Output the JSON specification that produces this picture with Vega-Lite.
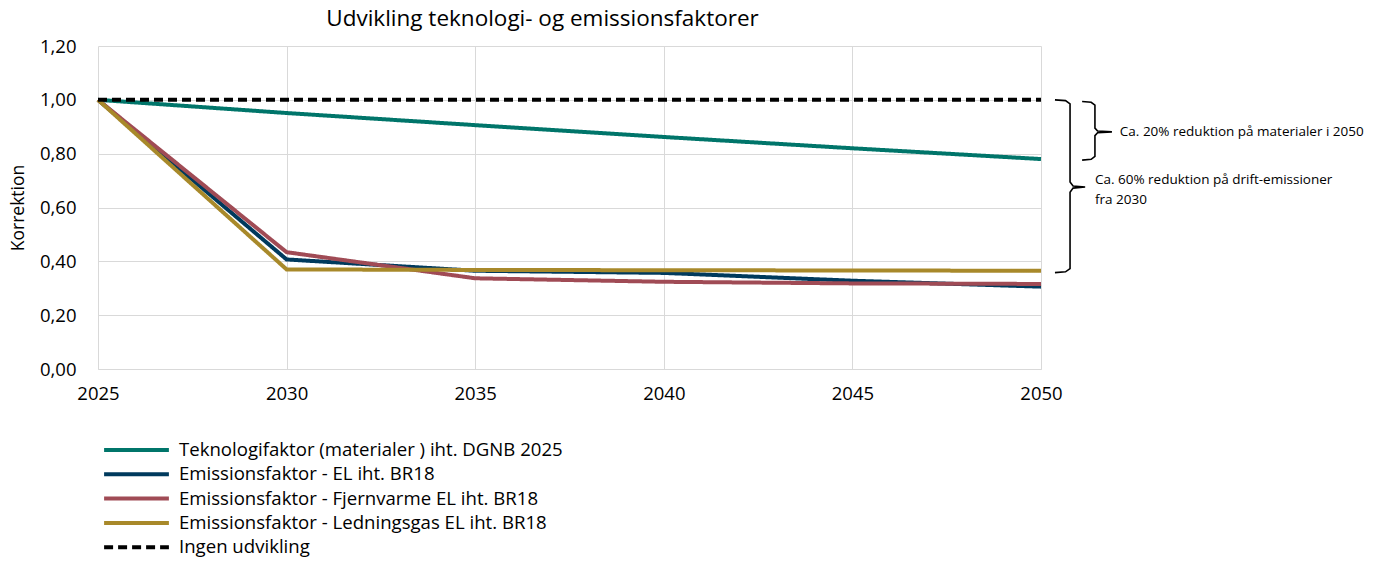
{
  "$schema": "https://vega.github.io/schema/vega-lite/v6.json",
  "width": 943,
  "height": 323,
  "autosize": {"type": "none"},
  "padding": {"left": 98, "top": 46, "right": 335, "bottom": 197},
  "title": {"text": "Udvikling teknologi- og emissionsfaktorer", "anchor": "middle", "dx": -27, "offset": 7, "font": "Open Sans", "fontSize": 22.5, "fontWeight": "normal", "color": "#000000"},
  "config": {
    "view": {"stroke": null},
    "font": "Open Sans",
    "axis": {"gridColor": "#d9d9d9", "gridWidth": 1, "labelFont": "Open Sans", "labelColor": "#000000", "titleFont": "Open Sans", "titleColor": "#000000", "titleFontWeight": "normal"},
    "legend": {"labelFont": "Open Sans", "labelColor": "#000000"}
  },
  "datasets": {
    "series": [
      {"year": 2025, "value": 1.0, "series": "Teknologifaktor (materialer ) iht. DGNB 2025"},
      {"year": 2030, "value": 0.951, "series": "Teknologifaktor (materialer ) iht. DGNB 2025"},
      {"year": 2035, "value": 0.906, "series": "Teknologifaktor (materialer ) iht. DGNB 2025"},
      {"year": 2040, "value": 0.862, "series": "Teknologifaktor (materialer ) iht. DGNB 2025"},
      {"year": 2045, "value": 0.82, "series": "Teknologifaktor (materialer ) iht. DGNB 2025"},
      {"year": 2050, "value": 0.78, "series": "Teknologifaktor (materialer ) iht. DGNB 2025"},
      {"year": 2025, "value": 1.0, "series": "Emissionsfaktor - EL iht. BR18"},
      {"year": 2030, "value": 0.407, "series": "Emissionsfaktor - EL iht. BR18"},
      {"year": 2035, "value": 0.365, "series": "Emissionsfaktor - EL iht. BR18"},
      {"year": 2040, "value": 0.357, "series": "Emissionsfaktor - EL iht. BR18"},
      {"year": 2045, "value": 0.328, "series": "Emissionsfaktor - EL iht. BR18"},
      {"year": 2050, "value": 0.306, "series": "Emissionsfaktor - EL iht. BR18"},
      {"year": 2025, "value": 1.0, "series": "Emissionsfaktor - Fjernvarme EL iht. BR18"},
      {"year": 2030, "value": 0.434, "series": "Emissionsfaktor - Fjernvarme EL iht. BR18"},
      {"year": 2035, "value": 0.337, "series": "Emissionsfaktor - Fjernvarme EL iht. BR18"},
      {"year": 2040, "value": 0.324, "series": "Emissionsfaktor - Fjernvarme EL iht. BR18"},
      {"year": 2045, "value": 0.318, "series": "Emissionsfaktor - Fjernvarme EL iht. BR18"},
      {"year": 2050, "value": 0.316, "series": "Emissionsfaktor - Fjernvarme EL iht. BR18"},
      {"year": 2025, "value": 1.0, "series": "Emissionsfaktor - Ledningsgas EL iht. BR18"},
      {"year": 2030, "value": 0.37, "series": "Emissionsfaktor - Ledningsgas EL iht. BR18"},
      {"year": 2035, "value": 0.368, "series": "Emissionsfaktor - Ledningsgas EL iht. BR18"},
      {"year": 2040, "value": 0.367, "series": "Emissionsfaktor - Ledningsgas EL iht. BR18"},
      {"year": 2045, "value": 0.366, "series": "Emissionsfaktor - Ledningsgas EL iht. BR18"},
      {"year": 2050, "value": 0.365, "series": "Emissionsfaktor - Ledningsgas EL iht. BR18"},
      {"year": 2025, "value": 1.0, "series": "Ingen udvikling"},
      {"year": 2030, "value": 1.0, "series": "Ingen udvikling"},
      {"year": 2035, "value": 1.0, "series": "Ingen udvikling"},
      {"year": 2040, "value": 1.0, "series": "Ingen udvikling"},
      {"year": 2045, "value": 1.0, "series": "Ingen udvikling"},
      {"year": 2050, "value": 1.0, "series": "Ingen udvikling"}
    ],
    "braces": [
      {"brace": "big", "o": 1, "bx": 2050.37, "by": 1.0},
      {"brace": "big", "o": 2, "bx": 2050.65, "by": 0.997},
      {"brace": "big", "o": 3, "bx": 2050.77, "by": 0.985},
      {"brace": "big", "o": 4, "bx": 2050.77, "by": 0.695},
      {"brace": "big", "o": 5, "bx": 2050.85, "by": 0.68},
      {"brace": "big", "o": 6, "bx": 2051.17, "by": 0.676},
      {"brace": "big", "o": 7, "bx": 2050.85, "by": 0.672},
      {"brace": "big", "o": 8, "bx": 2050.77, "by": 0.657},
      {"brace": "big", "o": 9, "bx": 2050.77, "by": 0.373},
      {"brace": "big", "o": 10, "bx": 2050.65, "by": 0.361},
      {"brace": "big", "o": 11, "bx": 2050.37, "by": 0.358},
      {"brace": "small", "o": 1, "bx": 2051.09, "by": 0.994},
      {"brace": "small", "o": 2, "bx": 2051.33, "by": 0.991},
      {"brace": "small", "o": 3, "bx": 2051.43, "by": 0.98},
      {"brace": "small", "o": 4, "bx": 2051.43, "by": 0.895},
      {"brace": "small", "o": 5, "bx": 2051.5, "by": 0.884},
      {"brace": "small", "o": 6, "bx": 2051.88, "by": 0.881},
      {"brace": "small", "o": 7, "bx": 2051.5, "by": 0.878},
      {"brace": "small", "o": 8, "bx": 2051.43, "by": 0.867},
      {"brace": "small", "o": 9, "bx": 2051.43, "by": 0.79},
      {"brace": "small", "o": 10, "bx": 2051.33, "by": 0.779},
      {"brace": "small", "o": 11, "bx": 2051.09, "by": 0.776}
    ],
    "notes": [
      {"tx": 2052.09, "ty": 0.881, "txt": "Ca. 20% reduktion på materialer i 2050"},
      {"tx": 2051.43, "ty": 0.702, "txt": "Ca. 60% reduktion på drift-emissioner"},
      {"tx": 2051.43, "ty": 0.628, "txt": "fra 2030"}
    ]
  },
  "layer": [
    {
      "data": {"name": "series"},
      "mark": {"type": "line", "strokeWidth": 4, "strokeCap": "butt"},
      "encoding": {
        "x": {"field": "year", "type": "quantitative", "scale": {"domain": [2025, 2050], "nice": false, "zero": false},
          "axis": {"title": null, "values": [2025, 2030, 2035, 2040, 2045, 2050], "format": "d", "labelFontSize": 18.5, "labelFlush": false, "ticks": false, "domain": true, "domainColor": "#d9d9d9", "labelPadding": 15, "grid": true}},
        "y": {"field": "value", "type": "quantitative", "scale": {"domain": [0, 1.2], "nice": false},
          "axis": {"title": "Korrektion", "titleFontSize": 17.5, "titlePadding": 12, "values": [0, 0.2, 0.4, 0.6, 0.8, 1.0, 1.2], "labelExpr": "replace(format(datum.value, '.2f'), '.', ',')", "labelFontSize": 18.5, "labelFlush": false, "ticks": false, "domain": false, "labelPadding": 22, "grid": true}},
        "color": {"field": "series", "type": "nominal",
          "scale": {"domain": ["Teknologifaktor (materialer ) iht. DGNB 2025", "Emissionsfaktor - EL iht. BR18", "Emissionsfaktor - Fjernvarme EL iht. BR18", "Emissionsfaktor - Ledningsgas EL iht. BR18", "Ingen udvikling"],
            "range": ["#00756a", "#003a5d", "#a04b55", "#a8892a", "#000000"]},
          "legend": {"title": null, "orient": "none", "legendX": 4, "legendY": 395, "direction": "vertical", "symbolType": "stroke", "symbolSize": 4200, "symbolStrokeWidth": 4, "clipHeight": 18, "labelFontSize": 18.6, "labelLimit": 800, "labelOffset": 8, "rowPadding": 5.3, "padding": 0}},
        "strokeDash": {"field": "series", "type": "nominal",
          "scale": {"domain": ["Teknologifaktor (materialer ) iht. DGNB 2025", "Emissionsfaktor - EL iht. BR18", "Emissionsfaktor - Fjernvarme EL iht. BR18", "Emissionsfaktor - Ledningsgas EL iht. BR18", "Ingen udvikling"],
            "range": [[1, 0], [1, 0], [1, 0], [1, 0], [9, 5]]},
          "legend": {"title": null, "orient": "none", "legendX": 4, "legendY": 395, "direction": "vertical", "symbolType": "stroke", "symbolSize": 4200, "symbolStrokeWidth": 4, "clipHeight": 18, "labelFontSize": 18.6, "labelLimit": 800, "labelOffset": 8, "rowPadding": 5.3, "padding": 0}}
      }
    },
    {
      "data": {"name": "braces"},
      "mark": {"type": "line", "color": "#000000", "strokeWidth": 1.6},
      "encoding": {
        "x": {"field": "bx", "type": "quantitative"},
        "y": {"field": "by", "type": "quantitative"},
        "detail": {"field": "brace"},
        "order": {"field": "o", "type": "quantitative"}
      }
    },
    {
      "data": {"name": "notes"},
      "mark": {"type": "text", "align": "left", "baseline": "middle", "fontSize": 13.5, "font": "Open Sans", "color": "#000000"},
      "encoding": {
        "x": {"field": "tx", "type": "quantitative"},
        "y": {"field": "ty", "type": "quantitative"},
        "text": {"field": "txt"}
      }
    }
  ]
}
